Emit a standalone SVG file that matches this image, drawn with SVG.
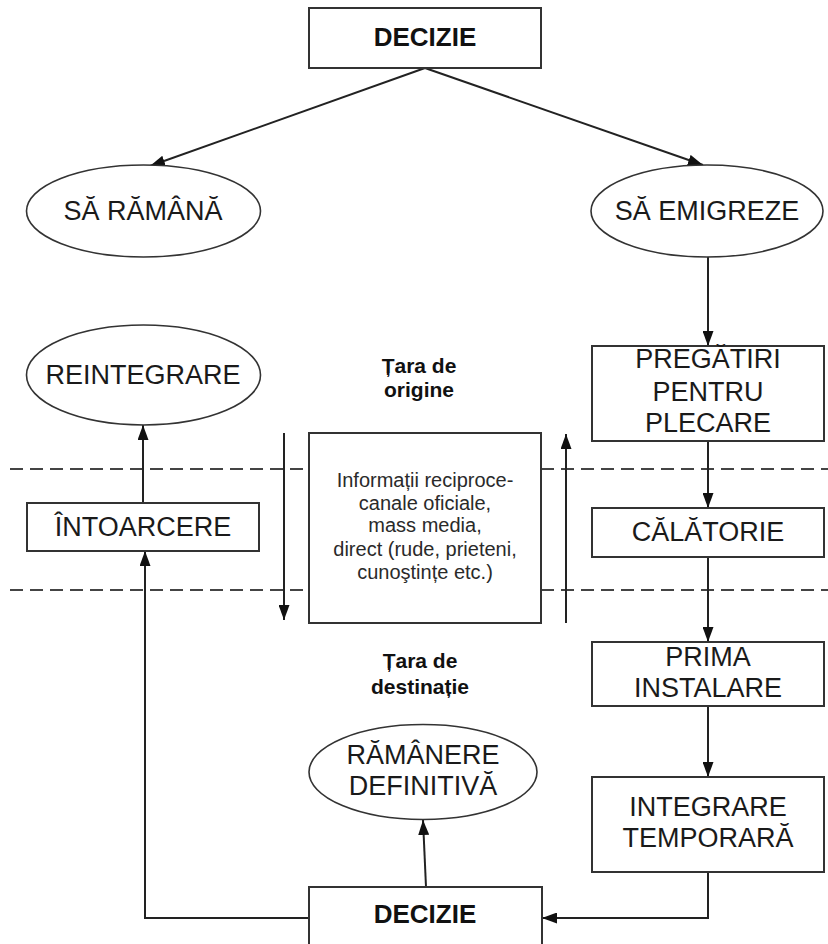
<svg xmlns="http://www.w3.org/2000/svg" width="828" height="944" viewBox="0 0 828 944">
<style>
.box{fill:#fff;stroke:#333;stroke-width:2}
.ell{fill:#fff;stroke:#333;stroke-width:1.6}
.t{font-family:"Liberation Sans",Arial,sans-serif;font-size:27px;fill:#1a1a1a;text-anchor:middle}
.b{font-family:"Liberation Sans",Arial,sans-serif;font-weight:bold;fill:#111;text-anchor:middle}
.s{font-family:"Liberation Sans",Arial,sans-serif;font-size:20px;fill:#2a2a2a;text-anchor:middle}
.c{fill:none;stroke:#222;stroke-width:2}
.d{fill:none;stroke:#444;stroke-width:1.8;stroke-dasharray:13 7}
</style>
<defs>
<marker id="ah" viewBox="0 0 15 11" refX="15" refY="5.5" markerWidth="15" markerHeight="11" markerUnits="userSpaceOnUse" orient="auto">
<path d="M0,0 L15,5.5 L0,11 z" fill="#111"/>
</marker>
</defs>
<g id="dashes">
<line class="d" x1="10" y1="469" x2="309" y2="469"/>
<line class="d" x1="541" y1="469" x2="828" y2="469"/>
<line class="d" x1="10" y1="590" x2="309" y2="590"/>
<line class="d" x1="541" y1="590" x2="828" y2="590"/>
</g>
<g id="connectors">
<line class="c" x1="425" y1="68" x2="150" y2="166" marker-end="url(#ah)"/>
<line class="c" x1="425" y1="68" x2="703" y2="165" marker-end="url(#ah)"/>
<line class="c" x1="708" y1="257" x2="708" y2="346" marker-end="url(#ah)"/>
<line class="c" x1="708" y1="441" x2="708" y2="508" marker-end="url(#ah)"/>
<line class="c" x1="708" y1="557" x2="708" y2="642" marker-end="url(#ah)"/>
<line class="c" x1="708" y1="706" x2="708" y2="777" marker-end="url(#ah)"/>
<path class="c" d="M708,872 V918 H542" marker-end="url(#ah)"/>
<line class="c" x1="426" y1="887" x2="423" y2="820" marker-end="url(#ah)"/>
<path class="c" d="M309,918 H145 V551" marker-end="url(#ah)"/>
<line class="c" x1="143" y1="503" x2="143" y2="425" marker-end="url(#ah)"/>
<line class="c" x1="284" y1="433" x2="284" y2="620" marker-end="url(#ah)"/>
<line class="c" x1="566" y1="623" x2="566" y2="434" marker-end="url(#ah)"/>
</g>
<g id="decizie-top">
<rect class="box" x="309" y="8" width="232" height="60"/>
<text class="b" x="425" y="46" font-size="26">DECIZIE</text>
</g>
<g id="sa-ramana">
<ellipse class="ell" cx="143.5" cy="211" rx="117" ry="46"/>
<text class="t" x="143" y="220">SĂ RĂMÂNĂ</text>
</g>
<g id="sa-emigreze">
<ellipse class="ell" cx="707" cy="211" rx="116" ry="46"/>
<text class="t" x="707" y="220">SĂ EMIGREZE</text>
</g>
<g id="pregatiri">
<rect class="box" x="592" y="346" width="232" height="95"/>
<text class="t" x="708" y="368">PREGĂTIRI</text>
<text class="t" x="708" y="401">PENTRU</text>
<text class="t" x="708" y="432">PLECARE</text>
</g>
<g id="reintegrare">
<ellipse class="ell" cx="143.5" cy="375" rx="117" ry="50"/>
<text class="t" x="143" y="384">REINTEGRARE</text>
</g>
<g id="tara-origine">
<text class="b" x="419" y="373" font-size="21">Țara de</text>
<text class="b" x="419" y="397" font-size="21">origine</text>
</g>
<g id="intoarcere">
<rect class="box" x="27" y="503" width="232" height="48"/>
<text class="t" x="143" y="536">ÎNTOARCERE</text>
</g>
<g id="informatii">
<rect class="box" x="309" y="433" width="232" height="190"/>
<text class="s" x="425" y="487">Informații reciproce-</text>
<text class="s" x="425" y="510">canale oficiale,</text>
<text class="s" x="425" y="532">mass media,</text>
<text class="s" x="425" y="556">direct (rude, prieteni,</text>
<text class="s" x="425" y="579">cunoştințe etc.)</text>
</g>
<g id="calatorie">
<rect class="box" x="592" y="508" width="232" height="49"/>
<text class="t" x="708" y="541">CĂLĂTORIE</text>
</g>
<g id="prima-instalare">
<rect class="box" x="592" y="642" width="232" height="64"/>
<text class="t" x="708" y="666">PRIMA</text>
<text class="t" x="708" y="697">INSTALARE</text>
</g>
<g id="tara-destinatie">
<text class="b" x="420" y="668" font-size="21">Țara de</text>
<text class="b" x="420" y="694" font-size="21">destinație</text>
</g>
<g id="ramanere-definitiva">
<ellipse class="ell" cx="423" cy="772" rx="114" ry="47.5"/>
<text class="t" x="423" y="764">RĂMÂNERE</text>
<text class="t" x="423" y="795">DEFINITIVĂ</text>
</g>
<g id="integrare-temporara">
<rect class="box" x="592" y="777" width="232" height="95"/>
<text class="t" x="708" y="816">INTEGRARE</text>
<text class="t" x="708" y="847">TEMPORARĂ</text>
</g>
<g id="decizie-bottom">
<rect class="box" x="309" y="887" width="233" height="70"/>
<text class="b" x="425" y="923" font-size="26">DECIZIE</text>
</g>
</svg>
